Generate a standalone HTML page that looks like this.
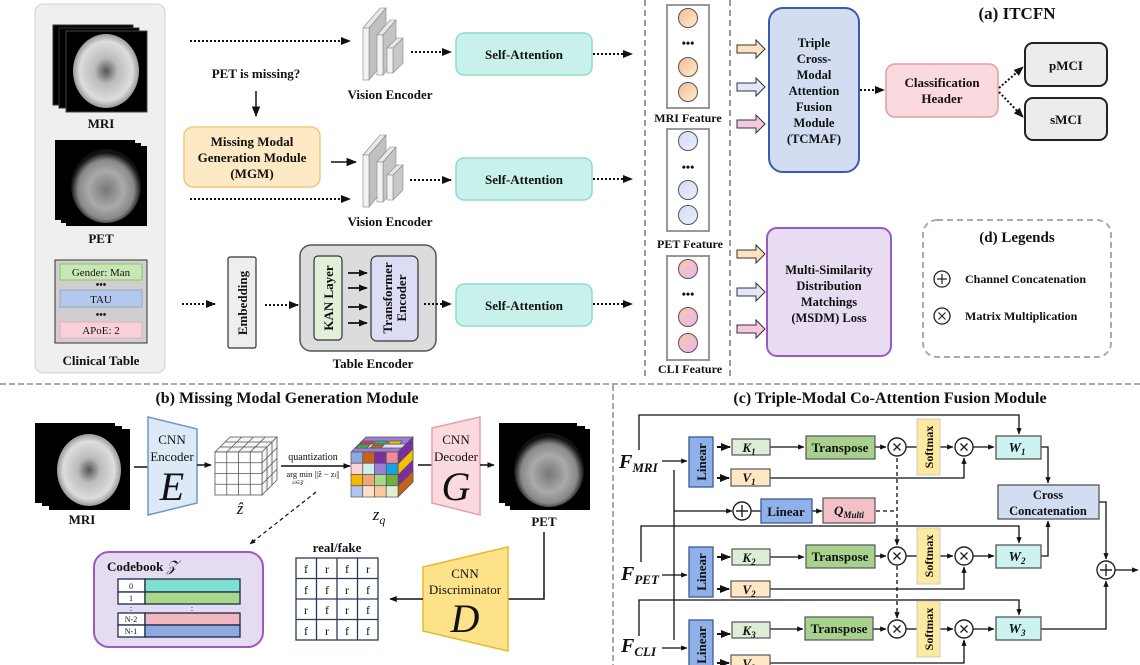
<!DOCTYPE html>
<html><head><meta charset="utf-8">
<style>
html,body{margin:0;padding:0;background:#fff;}
svg{display:block;}
text{font-family:"Liberation Serif",serif;font-weight:bold;fill:#111;}
.n{font-weight:normal;}
</style></head>
<body>
<svg width="1140" height="665" viewBox="0 0 1140 665" xmlns="http://www.w3.org/2000/svg">
<defs>
<marker id="ah" viewBox="0 0 10 10" refX="9" refY="5" markerWidth="7" markerHeight="7" orient="auto-start-reverse"><path d="M0,1 L10,5 L0,9 z" fill="#111"/></marker>
<marker id="as" viewBox="0 0 10 10" refX="9" refY="5" markerWidth="5" markerHeight="5" orient="auto-start-reverse"><path d="M0,1 L10,5 L0,9 z" fill="#111"/></marker>
<radialGradient id="mri" cx="50%" cy="50%" r="50%">
<stop offset="0" stop-color="#555"/><stop offset="0.35" stop-color="#bbb"/><stop offset="0.8" stop-color="#ddd"/><stop offset="1" stop-color="#999"/></radialGradient>
<radialGradient id="pet" cx="50%" cy="55%" r="50%">
<stop offset="0" stop-color="#777"/><stop offset="0.5" stop-color="#aaa"/><stop offset="0.8" stop-color="#888"/><stop offset="1" stop-color="#111"/></radialGradient>
<linearGradient id="cm" x1="0" y1="0" x2="1" y2="1"><stop offset="0" stop-color="#f6b89a"/><stop offset="1" stop-color="#fdf1c8"/></linearGradient>
<linearGradient id="cp" x1="0" y1="0" x2="1" y2="1"><stop offset="0" stop-color="#d8d8f8"/><stop offset="1" stop-color="#e6f2fa"/></linearGradient>
<linearGradient id="cc" x1="0" y1="0" x2="1" y2="1"><stop offset="0" stop-color="#f8c8a8"/><stop offset="1" stop-color="#e8b8f0"/></linearGradient>
</defs>

<!-- ===== (a) ===== -->
<rect x="35" y="4" width="130" height="369" rx="8" fill="#efefef" stroke="#cfcfcf"/>
<!-- MRI stack -->
<rect x="53" y="25" width="80" height="80" fill="#000" stroke="#333"/>
<rect x="59" y="28" width="80" height="80" fill="#000" stroke="#333"/>
<rect x="66" y="31" width="81" height="81" fill="#000" stroke="#444"/>
<ellipse cx="106" cy="71" rx="33" ry="37" fill="url(#mri)"/>
<text x="101" y="128" font-size="13" text-anchor="middle">MRI</text>
<!-- PET stack -->
<rect x="55" y="140" width="80" height="80" fill="#000"/>
<rect x="61" y="143" width="80" height="80" fill="#000"/>
<rect x="66" y="146" width="81" height="80" fill="#000"/>
<ellipse cx="106" cy="186" rx="35" ry="37" fill="url(#pet)"/>
<text x="101" y="243" font-size="13" text-anchor="middle">PET</text>
<!-- clinical table -->
<rect x="55" y="260" width="92" height="83" fill="#cfcfcf" stroke="#333"/>
<rect x="60" y="264" width="82" height="16" fill="#c9e7b4" stroke="#8cc070"/>
<text x="101" y="276" font-size="11" text-anchor="middle" class="n">Gender: Man</text>
<text x="101" y="288" font-size="10" text-anchor="middle">•••</text>
<rect x="60" y="290" width="82" height="17" fill="#b4c8ee" stroke="#9ab"/>
<text x="101" y="303" font-size="11" text-anchor="middle" class="n">TAU</text>
<text x="101" y="318" font-size="10" text-anchor="middle">•••</text>
<rect x="60" y="322" width="82" height="16" fill="#f8d0d8" stroke="#e8b0bc"/>
<text x="101" y="334" font-size="11" text-anchor="middle" class="n">APoE: 2</text>
<text x="101" y="365" font-size="13" text-anchor="middle">Clinical Table</text>

<!-- arrows row1 -->
<line x1="190" y1="41" x2="350" y2="41" stroke="#111" stroke-width="2" stroke-dasharray="2,2" marker-end="url(#as)"/>
<text x="256" y="78" font-size="13" text-anchor="middle">PET is missing?</text>
<line x1="256" y1="91" x2="256" y2="116" stroke="#111" stroke-width="1.5" marker-end="url(#ah)"/>
<rect x="184" y="127" width="136" height="60" rx="9" fill="#fde9c3" stroke="#f3c77c" stroke-width="1.5"/>
<text x="252" y="146" font-size="13" text-anchor="middle">Missing Modal</text>
<text x="252" y="162" font-size="13" text-anchor="middle">Generation Module</text>
<text x="252" y="178" font-size="13" text-anchor="middle">(MGM)</text>
<line x1="331" y1="162" x2="356" y2="162" stroke="#111" stroke-width="1.5" marker-end="url(#ah)"/>
<line x1="190" y1="199" x2="350" y2="199" stroke="#111" stroke-width="2" stroke-dasharray="2,2" marker-end="url(#as)"/>

<!-- vision encoders -->
<g id="ve">
<path d="M363,28 L380,8 L386,8 L369,28 z" fill="#e8e8e8" stroke="#888" stroke-width="0.6"/>
<path d="M369,28 L386,8 L386,60 L369,80 z" fill="#c0c0c0" stroke="#888" stroke-width="0.6"/>
<rect x="363" y="28" width="6" height="52" fill="#f2f2f2" stroke="#888" stroke-width="0.6"/>
<path d="M377,35 L390,20 L396,20 L383,35 z" fill="#e8e8e8" stroke="#888" stroke-width="0.6"/>
<path d="M383,35 L396,20 L396,60 L383,75 z" fill="#c4c4c4" stroke="#888" stroke-width="0.6"/>
<rect x="377" y="35" width="6" height="40" fill="#f2f2f2" stroke="#888" stroke-width="0.6"/>
<path d="M387,48 L397,38 L403,38 L393,48 z" fill="#e8e8e8" stroke="#888" stroke-width="0.6"/>
<path d="M393,48 L403,38 L403,63 L393,73 z" fill="#c8c8c8" stroke="#888" stroke-width="0.6"/>
<rect x="387" y="48" width="6" height="25" fill="#f2f2f2" stroke="#888" stroke-width="0.6"/>
</g>
<use href="#ve" transform="translate(0,127)"/>
<text x="390" y="99" font-size="13" text-anchor="middle">Vision Encoder</text>
<text x="390" y="226" font-size="13" text-anchor="middle">Vision Encoder</text>

<line x1="411" y1="52" x2="451" y2="52" stroke="#111" stroke-width="2" stroke-dasharray="2,2" marker-end="url(#as)"/>
<line x1="410" y1="180" x2="451" y2="180" stroke="#111" stroke-width="2" stroke-dasharray="2,2" marker-end="url(#as)"/>

<!-- self attention -->
<rect x="456" y="33" width="136" height="42" rx="8" fill="#c9f1eb" stroke="#8fdacf" stroke-width="1.5"/>
<text x="524" y="59" font-size="13" text-anchor="middle">Self-Attention</text>
<rect x="456" y="158" width="136" height="42" rx="8" fill="#c9f1eb" stroke="#8fdacf" stroke-width="1.5"/>
<text x="524" y="184" font-size="13" text-anchor="middle">Self-Attention</text>
<rect x="456" y="284" width="136" height="42" rx="8" fill="#c9f1eb" stroke="#8fdacf" stroke-width="1.5"/>
<text x="524" y="310" font-size="13" text-anchor="middle">Self-Attention</text>

<!-- table encoder -->
<line x1="182" y1="304" x2="215" y2="304" stroke="#111" stroke-width="2" stroke-dasharray="2,2" marker-end="url(#as)"/>
<rect x="228" y="257" width="28" height="91" rx="2" fill="#eeeeee" stroke="#333" stroke-width="1.2"/>
<text transform="translate(247,303) rotate(-90)" font-size="13" text-anchor="middle">Embedding</text>
<line x1="265" y1="305" x2="298" y2="305" stroke="#111" stroke-width="2" stroke-dasharray="2,2" marker-end="url(#as)"/>
<rect x="300" y="245" width="136" height="106" rx="11" fill="#dcdcdc" stroke="#555" stroke-width="1.5"/>
<rect x="314" y="256" width="28" height="84" rx="4" fill="#e2f0d9" stroke="#333" stroke-width="1.2"/>
<text transform="translate(333,298) rotate(-90)" font-size="13" text-anchor="middle">KAN Layer</text>
<rect x="371" y="256" width="47" height="85" rx="6" fill="#dcdcf4" stroke="#333" stroke-width="1.2"/>
<text transform="translate(392,298) rotate(-90)" font-size="13" text-anchor="middle">Transformer</text>
<text transform="translate(406,298) rotate(-90)" font-size="13" text-anchor="middle">Encoder</text>
<line x1="348" y1="273" x2="367" y2="273" stroke="#111" stroke-width="1.8" marker-end="url(#as)"/>
<line x1="348" y1="288" x2="367" y2="288" stroke="#111" stroke-width="1.8" marker-end="url(#as)"/>
<line x1="348" y1="307" x2="367" y2="307" stroke="#111" stroke-width="1.8" marker-end="url(#as)"/>
<line x1="348" y1="323" x2="367" y2="323" stroke="#111" stroke-width="1.8" marker-end="url(#as)"/>
<text x="373" y="368" font-size="13" text-anchor="middle">Table Encoder</text>
<line x1="424" y1="304" x2="451" y2="304" stroke="#111" stroke-width="2" stroke-dasharray="2,2" marker-end="url(#as)"/>

<!-- after SA -->
<line x1="593" y1="54" x2="632" y2="54" stroke="#111" stroke-width="2" stroke-dasharray="2,2" marker-end="url(#as)"/>
<line x1="593" y1="179" x2="632" y2="179" stroke="#111" stroke-width="2" stroke-dasharray="2,2" marker-end="url(#as)"/>
<line x1="593" y1="304" x2="632" y2="304" stroke="#111" stroke-width="2" stroke-dasharray="2,2" marker-end="url(#as)"/>

<!-- feature dashed column -->
<path d="M645,0 V378 M730,0 V378" stroke="#999" stroke-width="2" stroke-dasharray="6,4" fill="none"/>
<rect x="667" y="5" width="42" height="103" fill="#fff" stroke="#999" stroke-width="2"/>
<circle cx="688" cy="18" r="9.5" fill="url(#cm)" stroke="#555"/>
<text x="688" y="47" font-size="12" text-anchor="middle">•••</text>
<circle cx="688" cy="67" r="9.5" fill="url(#cm)" stroke="#555"/>
<circle cx="688" cy="92" r="9.5" fill="url(#cm)" stroke="#555"/>
<text x="688" y="122" font-size="12" text-anchor="middle">MRI Feature</text>
<rect x="667" y="129" width="42" height="102" fill="#fff" stroke="#999" stroke-width="2"/>
<circle cx="688" cy="141" r="9.5" fill="url(#cp)" stroke="#555"/>
<text x="688" y="171" font-size="12" text-anchor="middle">•••</text>
<circle cx="688" cy="190" r="9.5" fill="url(#cp)" stroke="#555"/>
<circle cx="688" cy="215" r="9.5" fill="url(#cp)" stroke="#555"/>
<text x="690" y="248" font-size="12" text-anchor="middle">PET Feature</text>
<rect x="667" y="256" width="42" height="104" fill="#fff" stroke="#999" stroke-width="2"/>
<circle cx="688" cy="269" r="9.5" fill="url(#cc)" stroke="#555"/>
<text x="688" y="298" font-size="12" text-anchor="middle">•••</text>
<circle cx="688" cy="317" r="9.5" fill="url(#cc)" stroke="#555"/>
<circle cx="688" cy="343" r="9.5" fill="url(#cc)" stroke="#555"/>
<text x="690" y="373" font-size="12" text-anchor="middle">CLI Feature</text>

<!-- block arrows -->
<g stroke="#333" stroke-width="1">
<path d="M737,45 h19 v-5 l9,9 l-9,9 v-5 h-19 z" fill="#fbe3c0"/>
<path d="M737,83 h19 v-5 l9,9 l-9,9 v-5 h-19 z" fill="#e4e6fa"/>
<path d="M737,120 h19 v-5 l9,9 l-9,9 v-5 h-19 z" fill="#f6c8e0"/>
<path d="M737,250 h19 v-5 l9,9 l-9,9 v-5 h-19 z" fill="#fbe3c0"/>
<path d="M737,288 h19 v-5 l9,9 l-9,9 v-5 h-19 z" fill="#e4e6fa"/>
<path d="M737,325 h19 v-5 l9,9 l-9,9 v-5 h-19 z" fill="#f6c8e0"/>
</g>

<rect x="769" y="8" width="90" height="164" rx="14" fill="#d3ddf2" stroke="#3a5bb0" stroke-width="2"/>
<text font-size="12.5" text-anchor="middle"><tspan x="814" y="47">Triple</tspan><tspan x="814" y="63">Cross-</tspan><tspan x="814" y="79">Modal</tspan><tspan x="814" y="95">Attention</tspan><tspan x="814" y="111">Fusion</tspan><tspan x="814" y="127">Module</tspan><tspan x="814" y="143">(TCMAF)</tspan></text>
<line x1="860" y1="90" x2="884" y2="90" stroke="#111" stroke-width="2" stroke-dasharray="2,2" marker-end="url(#as)"/>
<rect x="886" y="64" width="112" height="53" rx="9" fill="#fadadf" stroke="#e89aa3" stroke-width="1.5"/>
<text x="942" y="87" font-size="13" text-anchor="middle">Classification</text>
<text x="942" y="103" font-size="13" text-anchor="middle">Header</text>
<line x1="999" y1="88" x2="1023" y2="67" stroke="#111" stroke-width="2" stroke-dasharray="2,2" marker-end="url(#as)"/>
<line x1="999" y1="92" x2="1023" y2="117" stroke="#111" stroke-width="2" stroke-dasharray="2,2" marker-end="url(#as)"/>
<rect x="1025" y="43" width="82" height="43" rx="8" fill="#ececec" stroke="#222" stroke-width="2"/>
<text x="1066" y="70" font-size="13" text-anchor="middle">pMCI</text>
<rect x="1025" y="98" width="82" height="42" rx="8" fill="#ececec" stroke="#222" stroke-width="2"/>
<text x="1066" y="124" font-size="13" text-anchor="middle">sMCI</text>
<text x="1017" y="19" font-size="17" text-anchor="middle">(a) ITCFN</text>

<rect x="767" y="228" width="124" height="128" rx="10" fill="#e8dcf3" stroke="#9b59c4" stroke-width="2"/>
<text font-size="12.5" text-anchor="middle"><tspan x="829" y="274">Multi-Similarity</tspan><tspan x="829" y="290">Distribution</tspan><tspan x="829" y="306">Matchings</tspan><tspan x="829" y="322">(MSDM) Loss</tspan></text>

<rect x="923" y="220" width="188" height="137" rx="14" fill="#fff" stroke="#aaa" stroke-width="2" stroke-dasharray="6,4"/>
<text x="1017" y="242" font-size="15" text-anchor="middle">(d) Legends</text>
<circle cx="942" cy="279" r="8" fill="#fff" stroke="#222" stroke-width="1.3"/>
<path d="M937,279 h10 M942,274 v10" stroke="#222" stroke-width="1.2"/>
<text x="965" y="283" font-size="12">Channel Concatenation</text>
<circle cx="942" cy="316" r="8" fill="#fff" stroke="#222" stroke-width="1.3"/>
<path d="M938.5,312.5 l7,7 M945.5,312.5 l-7,7" stroke="#222" stroke-width="1.2"/>
<text x="965" y="320" font-size="12">Matrix Multiplication</text>

<!-- dividers -->
<line x1="0" y1="384" x2="1140" y2="384" stroke="#aaa" stroke-width="2" stroke-dasharray="6,3"/>
<line x1="613" y1="385" x2="613" y2="665" stroke="#aaa" stroke-width="2" stroke-dasharray="6,3"/>

<!-- ===== (b) ===== -->
<text x="287" y="403" font-size="16" text-anchor="middle">(b) Missing Modal Generation Module</text>
<rect x="35" y="423" width="80" height="80" fill="#000"/>
<rect x="42" y="426" width="80" height="80" fill="#000"/>
<rect x="49" y="429" width="81" height="81" fill="#000"/>
<ellipse cx="89" cy="470" rx="32" ry="36" fill="url(#mri)"/>
<text x="82" y="524" font-size="13" text-anchor="middle">MRI</text>
<line x1="134" y1="467" x2="148" y2="467" stroke="#111" stroke-width="1.5"/>
<path d="M148,417 L197,429 L197,503 L148,515 z" fill="#dde9f6" stroke="#7198cc" stroke-width="1.5"/>
<text x="172" y="444" font-size="13" text-anchor="middle" class="n">CNN</text>
<text x="172" y="461" font-size="13" text-anchor="middle" class="n">Encoder</text>
<text x="172" y="500" font-size="40" text-anchor="middle" class="n" font-style="italic">E</text>
<line x1="197" y1="465" x2="211" y2="465" stroke="#111" stroke-width="1.5" marker-end="url(#as)"/>
<!-- z hat cube -->
<g stroke="#555" stroke-width="0.8" fill="none">
<path d="M215,452 L230,437 L277,437 L262,452 z M262,452 L277,437 L277,480 L262,495 z" fill="#f5f5f5"/>
<rect x="215" y="452" width="47" height="43" fill="#fff"/>
<path d="M226.75,452 V495 M238.5,452 V495 M250.25,452 V495 M215,462.75 H262 M215,473.5 H262 M215,484.25 H262"/>
<path d="M226.75,452 L241.75,437 M238.5,452 L253.5,437 M250.25,452 L265.25,437 M220,447 L267,447 M225,442 L272,442"/>
<path d="M267,447 V490 M272,442 V485 M262,462.75 L277,447.75 M262,473.5 L277,458.5 M262,484.25 L277,469.25"/>
</g>
<text x="240" y="514" font-size="17" text-anchor="middle" class="n" font-style="italic">ẑ</text>
<text x="313" y="460" font-size="10" text-anchor="middle" class="n">quantization</text>
<line x1="281" y1="466" x2="350" y2="466" stroke="#111" stroke-width="1.5" marker-end="url(#as)"/>
<text x="313" y="477" font-size="8.5" text-anchor="middle" class="n" fill="#444">arg min ||ẑ − z<tspan font-size="6">i</tspan>||</text>
<text x="298" y="484" font-size="5" text-anchor="middle" class="n" fill="#444">z<tspan>i</tspan>∈𝒵</text>
<line x1="316" y1="492" x2="250" y2="544" stroke="#111" stroke-width="1.2" stroke-dasharray="4,3" marker-end="url(#as)"/>
<!-- zq cube -->
<g stroke="#555" stroke-width="0.7">
<path d="M351,452 L366,437 L413,437 L398,452 z" fill="#9b80d8"/>
<path d="M355,448 L402,448 L406,444 L359,444 z" fill="#e8e0f0"/>
<path d="M362,441 h12 l-2,3 h-12 z" fill="#d04040"/><path d="M376,441 h12 l-2,3 h-12 z" fill="#40b060"/><path d="M390,441 h12 l-2,3 h-12 z" fill="#f5c000"/>
<path d="M356,448 h11 l3,-3 h-11 z" fill="#40b060"/><path d="M370,448 h11 l3,-3 h-11 z" fill="#c8621a"/>
<path d="M398,452 L413,437 L413,482 L398,497 z" fill="#7a2fa0"/>
<path d="M398,464 L413,449 V460 L398,475 z" fill="#f5c000"/>
<path d="M398,486 L413,471 V482 L398,497 z" fill="#c8621a"/>
<rect x="351" y="452" width="11.75" height="11.25" fill="#8fa8e0"/><rect x="362.75" y="452" width="11.75" height="11.25" fill="#c8621a"/><rect x="374.5" y="452" width="11.75" height="11.25" fill="#7a2fa0"/><rect x="386.25" y="452" width="11.75" height="11.25" fill="#f08a98"/>
<rect x="351" y="463.25" width="11.75" height="11.25" fill="#f9d4d8"/><rect x="362.75" y="463.25" width="11.75" height="11.25" fill="#cdf0ea"/><rect x="374.5" y="463.25" width="11.75" height="11.25" fill="#9b80d8"/><rect x="386.25" y="463.25" width="11.75" height="11.25" fill="#1ca0e0"/>
<rect x="351" y="474.5" width="11.75" height="11.25" fill="#f5b800"/><rect x="362.75" y="474.5" width="11.75" height="11.25" fill="#f0a878"/><rect x="374.5" y="474.5" width="11.75" height="11.25" fill="#a8d88a"/><rect x="386.25" y="474.5" width="11.75" height="11.25" fill="#70b040"/>
<rect x="351" y="485.75" width="11.75" height="11.25" fill="#b0c4ec"/><rect x="362.75" y="485.75" width="11.75" height="11.25" fill="#fde0c8"/><rect x="374.5" y="485.75" width="11.75" height="11.25" fill="#f8c8a0"/><rect x="386.25" y="485.75" width="11.75" height="11.25" fill="#e0f0d0"/>
</g>
<text x="379" y="520" font-size="17" text-anchor="middle" class="n" font-style="italic">z<tspan font-size="12" dy="4">q</tspan></text>
<line x1="418" y1="465" x2="432" y2="465" stroke="#111" stroke-width="1.5"/>
<path d="M432,428 L480,417 L480,515 L432,503 z" fill="#fadadf" stroke="#e8a0a8" stroke-width="1.5"/>
<text x="456" y="444" font-size="13" text-anchor="middle" class="n">CNN</text>
<text x="456" y="461" font-size="13" text-anchor="middle" class="n">Decoder</text>
<text x="456" y="500" font-size="40" text-anchor="middle" class="n" font-style="italic">G</text>
<line x1="480" y1="465" x2="494" y2="465" stroke="#111" stroke-width="1.5" marker-end="url(#as)"/>
<rect x="499" y="423" width="78" height="80" fill="#000"/>
<rect x="505" y="426" width="80" height="80" fill="#000"/>
<rect x="510" y="429" width="80" height="81" fill="#000"/>
<ellipse cx="549" cy="470" rx="35" ry="37" fill="url(#pet)"/>
<text x="544" y="526" font-size="13" text-anchor="middle">PET</text>
<polyline points="544,532 544,599 508,599" fill="none" stroke="#111" stroke-width="1.5"/>
<path d="M423,567 L508,547 L508,651 L423,631 z" fill="#fde28a" stroke="#e8b92a" stroke-width="1.5"/>
<text x="465" y="578" font-size="13" text-anchor="middle" class="n">CNN</text>
<text x="465" y="594" font-size="13" text-anchor="middle" class="n">Discriminator</text>
<text x="465" y="632" font-size="40" text-anchor="middle" class="n" font-style="italic">D</text>
<line x1="423" y1="599" x2="390" y2="599" stroke="#111" stroke-width="1.5" marker-end="url(#as)"/>
<text x="337" y="552" font-size="13" text-anchor="middle">real/fake</text>
<g stroke="#2a3a5a" stroke-width="1.3" fill="#fff">
<rect x="296" y="558" width="82" height="82"/>
<path d="M316.5,558 V640 M337,558 V640 M357.5,558 V640 M296,578.5 H378 M296,599 H378 M296,619.5 H378" fill="none"/>
</g>
<g font-size="12" text-anchor="middle" class="n">
<text class="n" x="306" y="573">f</text><text class="n" x="327" y="573">r</text><text class="n" x="347" y="573">f</text><text class="n" x="368" y="573">r</text>
<text class="n" x="306" y="594">f</text><text class="n" x="327" y="594">f</text><text class="n" x="347" y="594">r</text><text class="n" x="368" y="594">f</text>
<text class="n" x="306" y="614">r</text><text class="n" x="327" y="614">f</text><text class="n" x="347" y="614">r</text><text class="n" x="368" y="614">f</text>
<text class="n" x="306" y="635">f</text><text class="n" x="327" y="635">r</text><text class="n" x="347" y="635">f</text><text class="n" x="368" y="635">f</text>
</g>
<rect x="94" y="552" width="169" height="95" rx="15" fill="#e6dcf2" stroke="#9b59c4" stroke-width="2"/>
<text x="107" y="571" font-size="13">Codebook <tspan font-style="italic" class="n" font-size="15">𝒵</tspan></text>
<g stroke="#1a2a4a" stroke-width="1.3">
<rect x="118" y="579" width="27" height="13" fill="#fff"/><rect x="145" y="579" width="95" height="13" fill="#7fe0d2"/>
<rect x="118" y="592" width="27" height="12" fill="#fff"/><rect x="145" y="592" width="95" height="12" fill="#a8d88a"/>
<rect x="118" y="613" width="27" height="12" fill="#fff"/><rect x="145" y="613" width="95" height="12" fill="#f4b6bf"/>
<rect x="118" y="625" width="27" height="12" fill="#fff"/><rect x="145" y="625" width="95" height="12" fill="#8fa8e0"/>
</g>
<g font-size="8" text-anchor="middle">
<text class="n" x="131" y="589">0</text><text class="n" x="131" y="601">1</text>
<text class="n" x="131" y="611">:</text><text class="n" x="192" y="611">:</text>
<text class="n" x="131" y="622">N-2</text><text class="n" x="131" y="634">N-1</text>
</g>

<!-- ===== (c) ===== -->
<text x="890" y="403" font-size="16" text-anchor="middle">(c) Triple-Modal Co-Attention Fusion Module</text>
<g font-style="italic" font-family="Liberation Serif">
<text x="619" y="468" font-size="20">F<tspan font-size="13" dy="4">MRI</tspan></text>
<text x="621" y="580" font-size="20">F<tspan font-size="13" dy="4">PET</tspan></text>
<text x="621" y="652" font-size="20">F<tspan font-size="13" dy="4">CLI</tspan></text>
</g>
<g fill="none" stroke="#111" stroke-width="1.3">
<polyline points="639,450 639,415 1019,415 1019,434" marker-end="url(#as)"/>
<polyline points="641,562 641,526 1019,526 1019,543" marker-end="url(#as)"/>
<polyline points="639,636 639,600 1019,600 1019,615" marker-end="url(#as)"/>
<line x1="662" y1="461" x2="687" y2="461" marker-end="url(#as)"/>
<line x1="662" y1="575" x2="687" y2="575" marker-end="url(#as)"/>
<line x1="662" y1="648" x2="687" y2="648" marker-end="url(#as)"/>
<polyline points="674,470 674,640"/>
<line x1="674" y1="511" x2="732" y2="511" marker-end="url(#as)"/>
<line x1="751" y1="511" x2="761" y2="511"/>
<line x1="812" y1="511" x2="822" y2="511" marker-end="url(#as)"/>
</g>
<g fill="none" stroke="#111" stroke-width="1.3">
<!-- per row -->
<line x1="717" y1="447" x2="730" y2="447" stroke-width="2" marker-end="url(#as)"/>
<line x1="717" y1="478" x2="729" y2="478" stroke-width="2" marker-end="url(#as)"/>
<line x1="770" y1="447" x2="804" y2="447" marker-end="url(#as)"/>
<line x1="875" y1="447" x2="886" y2="447" marker-end="url(#as)"/>
<line x1="906" y1="447" x2="917" y2="447"/>
<line x1="940" y1="447" x2="953" y2="447" marker-end="url(#as)"/>
<line x1="973" y1="447" x2="994" y2="447" marker-end="url(#as)"/>
<polyline points="770,478 964,478 964,458" marker-end="url(#as)"/>

<line x1="717" y1="557" x2="730" y2="557" stroke-width="2" marker-end="url(#as)"/>
<line x1="717" y1="589" x2="729" y2="589" stroke-width="2" marker-end="url(#as)"/>
<line x1="770" y1="557" x2="804" y2="557" marker-end="url(#as)"/>
<line x1="875" y1="556" x2="886" y2="556" marker-end="url(#as)"/>
<line x1="906" y1="556" x2="917" y2="556"/>
<line x1="940" y1="556" x2="953" y2="556" marker-end="url(#as)"/>
<line x1="973" y1="556" x2="994" y2="556" marker-end="url(#as)"/>
<polyline points="770,589 964,589 964,567" marker-end="url(#as)"/>

<line x1="717" y1="634" x2="730" y2="634" stroke-width="2" marker-end="url(#as)"/>
<line x1="717" y1="663" x2="729" y2="663" stroke-width="2" marker-end="url(#as)"/>
<line x1="770" y1="629" x2="803" y2="629" marker-end="url(#as)"/>
<line x1="873" y1="629" x2="886" y2="629" marker-end="url(#as)"/>
<line x1="906" y1="629" x2="917" y2="629"/>
<line x1="940" y1="629" x2="953" y2="629" marker-end="url(#as)"/>
<line x1="973" y1="629" x2="994" y2="629" marker-end="url(#as)"/>
<polyline points="770,663 964,663 964,640" marker-end="url(#as)"/>

<polyline points="1041,447 1048,447 1048,483" marker-end="url(#as)"/>
<polyline points="1041,556 1048,556 1048,521" marker-end="url(#as)"/>
<polyline points="1099,502 1106,502 1106,559" marker-end="url(#as)"/>
<polyline points="1041,629 1106,629 1106,581" marker-end="url(#as)"/>
<line x1="1115" y1="570" x2="1138" y2="570" marker-end="url(#as)"/>
</g>
<g fill="none" stroke="#111" stroke-width="1.3" stroke-dasharray="4,3">
<line x1="876" y1="511" x2="897" y2="511"/>
<line x1="897" y1="458" x2="897" y2="545" marker-end="url(#as)"/>
<line x1="897" y1="566" x2="897" y2="618" marker-end="url(#as)"/>
</g>
<!-- linear boxes -->
<g fill="#8fb0e8" stroke="#3a5b90" stroke-width="1.3">
<rect x="689" y="437" width="24" height="50"/><rect x="689" y="547" width="24" height="50"/><rect x="689" y="620" width="24" height="50"/>
</g>
<text transform="translate(706,462) rotate(-90)" font-size="13" text-anchor="middle">Linear</text>
<text transform="translate(706,572) rotate(-90)" font-size="13" text-anchor="middle">Linear</text>
<text transform="translate(706,645) rotate(-90)" font-size="13" text-anchor="middle">Linear</text>
<!-- K V -->
<g stroke="#555" stroke-width="1.2">
<rect x="732" y="439" width="38" height="16" fill="#dcefd6"/><rect x="731" y="469" width="39" height="17" fill="#fde8c3"/>
<rect x="732" y="549" width="38" height="16" fill="#dcefd6"/><rect x="731" y="581" width="39" height="16" fill="#fde8c3"/>
<rect x="732" y="622" width="38" height="16" fill="#dcefd6"/><rect x="731" y="655" width="39" height="16" fill="#fde8c3"/>
</g>
<g font-size="13" font-style="italic" text-anchor="middle">
<text x="749" y="452">K<tspan font-size="9" dy="3">1</tspan></text>
<text x="749" y="482">V<tspan font-size="9" dy="3">1</tspan></text>
<text x="749" y="562">K<tspan font-size="9" dy="3">2</tspan></text>
<text x="749" y="594">V<tspan font-size="9" dy="3">2</tspan></text>
<text x="749" y="635">K<tspan font-size="9" dy="3">3</tspan></text>
<text x="749" y="668">V<tspan font-size="9" dy="3">3</tspan></text>
</g>
<g fill="#a9d18e" stroke="#555" stroke-width="1.2">
<rect x="806" y="436" width="69" height="23"/><rect x="806" y="545" width="69" height="23"/><rect x="805" y="617" width="68" height="23"/>
</g>
<text x="840" y="452" font-size="13" text-anchor="middle">Transpose</text>
<text x="840" y="561" font-size="13" text-anchor="middle">Transpose</text>
<text x="839" y="633" font-size="13" text-anchor="middle">Transpose</text>
<g fill="#fde9a0" stroke="#ccc" stroke-width="1">
<rect x="917" y="419" width="23" height="56"/><rect x="917" y="528" width="23" height="56"/><rect x="917" y="601" width="23" height="56"/>
</g>
<text transform="translate(933,447) rotate(-90)" font-size="12" text-anchor="middle">Softmax</text>
<text transform="translate(933,556) rotate(-90)" font-size="12" text-anchor="middle">Softmax</text>
<text transform="translate(933,629) rotate(-90)" font-size="12" text-anchor="middle">Softmax</text>
<g fill="#fff" stroke="#222" stroke-width="1.4">
<circle cx="897" cy="447" r="9"/><circle cx="964" cy="447" r="9"/>
<circle cx="897" cy="556" r="9"/><circle cx="964" cy="556" r="9"/>
<circle cx="897" cy="629" r="9"/><circle cx="964" cy="629" r="9"/>
<circle cx="742" cy="511" r="9"/><circle cx="1106" cy="570" r="9"/>
</g>
<g stroke="#222" stroke-width="1.4">
<path d="M893.5,443.5 l7,7 M900.5,443.5 l-7,7 M960.5,443.5 l7,7 M967.5,443.5 l-7,7"/>
<path d="M893.5,552.5 l7,7 M900.5,552.5 l-7,7 M960.5,552.5 l7,7 M967.5,552.5 l-7,7"/>
<path d="M893.5,625.5 l7,7 M900.5,625.5 l-7,7 M960.5,625.5 l7,7 M967.5,625.5 l-7,7"/>
<path d="M736,511 h12 M742,505 v12 M1100,570 h12 M1106,564 v12"/>
</g>
<rect x="761" y="499" width="51" height="24" fill="#8fb0e8" stroke="#3a5b90" stroke-width="1.3"/>
<text x="786" y="516" font-size="13" text-anchor="middle">Linear</text>
<rect x="823" y="498" width="52" height="25" fill="#f4c0c8" stroke="#555" stroke-width="1.2"/>
<text x="849" y="515" font-size="13" text-anchor="middle" font-style="italic">Q<tspan font-size="9" dy="3">Multi</tspan></text>
<g fill="#cdf3f0" stroke="#555" stroke-width="1.3">
<rect x="996" y="436" width="45" height="23"/><rect x="996" y="545" width="45" height="23"/><rect x="996" y="617" width="45" height="23"/>
</g>
<g font-size="14" font-style="italic" text-anchor="middle">
<text x="1017" y="452">W<tspan font-size="9" dy="3">1</tspan></text>
<text x="1017" y="561">W<tspan font-size="9" dy="3">2</tspan></text>
<text x="1017" y="633">W<tspan font-size="9" dy="3">3</tspan></text>
</g>
<rect x="998" y="485" width="101" height="34" fill="#d3ddf2" stroke="#555" stroke-width="1.3"/>
<text x="1048" y="499" font-size="12.5" text-anchor="middle">Cross</text>
<text x="1048" y="515" font-size="12.5" text-anchor="middle">Concatenation</text>
</svg>
</body></html>
